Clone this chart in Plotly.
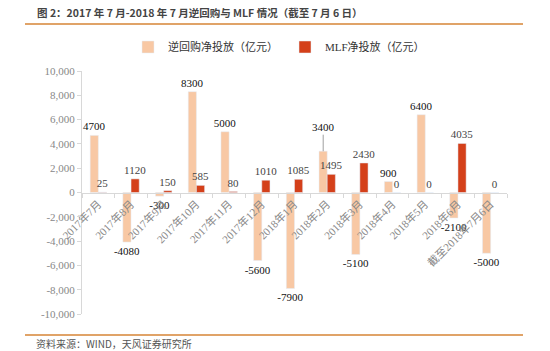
import plotly.graph_objects as go

categories = ["2017年7月", "2017年8月", "2017年9月", "2017年10月", "2017年11月", "2017年12月",
              "2018年1月", "2018年2月", "2018年3月", "2018年4月", "2018年5月", "2018年6月",
              "截至2018年7月6日"]
reverse_repo = [4700, -4080, -300, 8300, 5000, -5600, -7900, 3400, -5100, 900, 6400, -2100, -5000]
mlf = [25, 1120, 150, 585, 80, 1010, 1085, 1495, 2430, 0, 0, 4035, 0]
y_ticks = [-10000, -8000, -6000, -4000, -2000, 0, 2000, 4000, 6000, 8000, 10000]
y_tick_text = ["-10,000", "-8,000", "-6,000", "-4,000", "-2,000", "0", "2,000", "4,000", "6,000", "8,000", "10,000"]

PEACH = "#F8C8A4"
RED = "#D4401A"
SERIF = "Liberation Serif, Noto Sans CJK SC"

# reverse-repo labels: the 3400 label is drawn as a leader-line annotation instead
rr_text = [("" if v == 3400 else str(v)) for v in reverse_repo]

fig = go.Figure()
fig.add_trace(go.Bar(
    x=categories, y=reverse_repo, name="逆回购净投放（亿元）",
    marker_color=PEACH, text=rr_text, textposition="outside", constraintext="none",
    textfont=dict(family=SERIF, size=11, color="#111"), cliponaxis=False,
))
fig.add_trace(go.Bar(
    x=categories, y=mlf, name="MLF净投放（亿元）",
    marker_color=RED, text=[str(v) for v in mlf], textposition="outside", constraintext="none",
    textfont=dict(family=SERIF, size=11, color="#444"), cliponaxis=False,
))

for c, v in zip(categories, reverse_repo):
    if v == 3400:
        fig.add_annotation(x=c, y=v, xshift=-4, text=str(v), showarrow=True, arrowhead=0,
                           arrowwidth=0.8, arrowcolor="#888", ax=0, ay=-24,
                           font=dict(family=SERIF, size=11, color="#111"))

W = 425.0
H = 243.0
fig.update_layout(
    width=550, height=351,
    margin=dict(l=82, r=43, t=71, b=37, autoexpand=False),
    paper_bgcolor="white", plot_bgcolor="white",
    barmode="group", bargap=0.5, bargroupgap=0,
    showlegend=True,
    legend=dict(orientation="h", x=(128 - 82) / W, xanchor="left", y=1 + (71 - 47) / H, yanchor="middle",
                font=dict(family=SERIF, size=11, color="#333"),
                itemwidth=30, entrywidth=112, traceorder="normal", tracegroupgap=0),
    font=dict(family=SERIF, size=11, color="#888"),
    xaxis=dict(type="category", anchor="free", position=0.5, tickangle=-45,
               showline=True, linecolor="#D8D8D8", linewidth=1,
               ticks="outside", ticklen=4, tickcolor="#D8D8D8", tickson="boundaries",
               tickfont=dict(family=SERIF, size=11, color="#888"), showgrid=False,
               zeroline=False),
    yaxis=dict(range=[-10000, 10000], tickvals=y_ticks, ticktext=y_tick_text,
               showline=True, linecolor="#D8D8D8", linewidth=1,
               ticks="outside", ticklen=4, tickcolor="#D8D8D8",
               tickfont=dict(family=SERIF, size=11, color="#888"),
               showgrid=False, zeroline=False),
)

fig.add_annotation(xref="paper", yref="paper", x=-(82 - 35) / W, y=1 + (71 - 13) / H,
                   xanchor="left", yanchor="middle", showarrow=False,
                   text="<b>图 2：2017 年 7 月-2018 年 7 月逆回购与 MLF 情况（截至 7 月 6 日）</b>",
                   font=dict(family="Noto Sans CJK SC", size=10.5, color="#444"))
fig.add_annotation(xref="paper", yref="paper", x=-(82 - 35) / W, y=-(343 - 314) / H,
                   xanchor="left", yanchor="middle", showarrow=False, borderpad=0,
                   text="资料来源：WIND，天风证券研究所",
                   font=dict(family="Noto Sans CJK SC", size=10, color="#555"))
fig.add_shape(type="line", xref="paper", yref="paper",
              x0=-(82 - 25) / W, x1=(523 - 82) / W, y0=1 + (71 - 24) / H, y1=1 + (71 - 24) / H,
              line=dict(color="#E0A368", width=2))
fig.add_shape(type="line", xref="paper", yref="paper",
              x0=-(82 - 25) / W, x1=(523 - 82) / W, y0=-(335 - 314) / H, y1=-(335 - 314) / H,
              line=dict(color="#E0A368", width=2))

fig.write_html("out.html")
